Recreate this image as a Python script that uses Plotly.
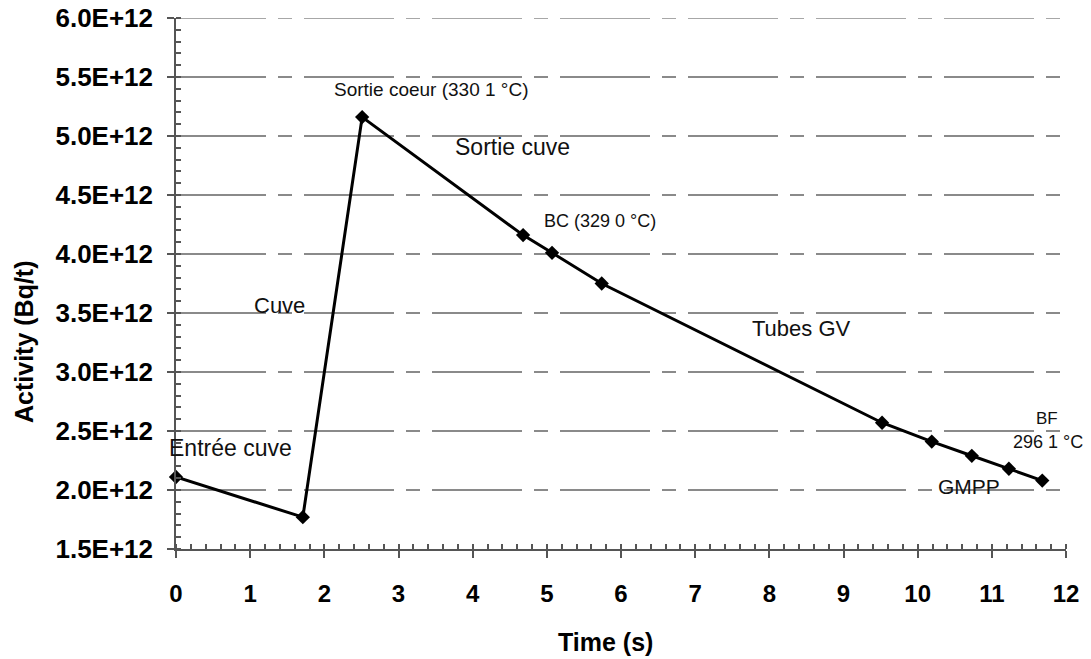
import plotly.graph_objects as go

# Data
time_s = [0.0, 1.71, 2.51, 4.68, 5.07, 5.74, 9.52, 10.19, 10.73, 11.23, 11.68]
activity = [2.11e12, 1.77e12, 5.16e12, 4.16e12, 4.01e12, 3.75e12, 2.57e12, 2.41e12, 2.29e12, 2.18e12, 2.08e12]

y_tickvals = [1.5e12, 2.0e12, 2.5e12, 3.0e12, 3.5e12, 4.0e12, 4.5e12, 5.0e12, 5.5e12, 6.0e12]
y_ticktext = ["1.5E+12", "2.0E+12", "2.5E+12", "3.0E+12", "3.5E+12",
              "4.0E+12", "4.5E+12", "5.0E+12", "5.5E+12", "6.0E+12"]
x_tickvals = list(range(0, 13))

labels = ["Sortie coeur (330 1 °C)", "Sortie cuve", "BC (329 0 °C)", "Cuve",
          "Tubes GV", "Entrée cuve", "BF", "296 1 °C", "GMPP"]
label_x = [3.45, 4.54, 5.72, 1.39, 8.44, 0.74, 11.74, 11.76, 10.69]
label_y = [5.39e12, 4.91e12, 4.28e12, 3.56e12, 3.37e12, 2.36e12, 2.61e12, 2.41e12, 2.03e12]
label_size = [19, 23, 18, 22, 22, 23, 17, 18, 21]

FONT = "Arial, Liberation Sans, sans-serif"

# page offset (browser body margin) and target plot-area pixels on screen
OFF = 8
W, H = 1091, 659
PX0, PX1, PY0, PY1 = 176, 1066, 18, 549
L, T = PX0 - OFF, PY0 - OFF
R, B = W + OFF - PX1, H + OFF - PY1
PW, PH = PX1 - PX0, PY1 - PY0

GRID_COLOR = "#8a8a8a"
GRID_DASH = "90px,12px,14px,12px"

fig = go.Figure()
fig.add_trace(go.Scatter(
    x=time_s, y=activity, mode="lines+markers",
    line=dict(color="black", width=3),
    marker=dict(symbol="diamond", size=11, color="black"),
    showlegend=False, cliponaxis=False,
))

for t, xx, yy, s in zip(labels, label_x, label_y, label_size):
    fig.add_annotation(x=xx, y=yy, xref="x", yref="y", text=t, showarrow=False,
                       font=dict(family=FONT, size=s, color="#111"))

# axis titles placed as paper annotations (screen pixel targets converted to paper)
fig.add_annotation(x=(605 - PX0) / PW, y=(PY1 - 642) / PH, xref="paper", yref="paper",
                   text="<b>Time (s)</b>", showarrow=False, xanchor="center", yanchor="middle",
                   font=dict(family=FONT, size=25, color="black"))
fig.add_annotation(x=(24 - PX0) / PW, y=(PY1 - 342) / PH, xref="paper", yref="paper",
                   text="<b>Activity (Bq/t)</b>", showarrow=False, textangle=-90,
                   xanchor="center", yanchor="middle",
                   font=dict(family=FONT, size=25, color="black"))

# top gridline (plotly omits the gridline lying on the plot edge)
fig.add_shape(type="line", xref="paper", x0=0, x1=1, yref="y", y0=y_tickvals[-1], y1=y_tickvals[-1],
              line=dict(color=GRID_COLOR, width=1.5, dash=GRID_DASH), layer="below")

fig.update_layout(
    width=W, height=H,
    margin=dict(l=L, r=R, t=T, b=B, autoexpand=False),
    paper_bgcolor="white", plot_bgcolor="white",
    font=dict(family=FONT, color="black"),
)

fig.update_xaxes(
    range=[0, 12], tickvals=x_tickvals, automargin=False,
    showline=True, linecolor="#555", linewidth=1.5,
    ticks="outside", ticklen=7, tickcolor="#555", tickwidth=1.5,
    ticklabelstandoff=15, ticklabeloverflow="allow",
    tickfont=dict(family=FONT, size=24, color="black", weight="bold"),
    showgrid=False, zeroline=False,
    minor=dict(ticks="inside", dtick=0.2, ticklen=5, tickcolor="#555", showgrid=False),
)
fig.update_yaxes(
    range=[1.5e12, 6.0e12], tickvals=y_tickvals, ticktext=y_ticktext, automargin=False,
    showline=True, linecolor="#555", linewidth=1.5,
    ticks="outside", ticklen=7, tickcolor="#555", tickwidth=1.5,
    ticklabelstandoff=9, ticklabeloverflow="allow",
    tickfont=dict(family=FONT, size=26, color="black", weight="bold"),
    showgrid=True, gridcolor=GRID_COLOR, gridwidth=1.5, griddash=GRID_DASH,
    zeroline=False,
    minor=dict(ticks="inside", dtick=0.1e12, tick0=1.5e12, ticklen=5, tickcolor="#555", showgrid=False),
)

fig.write_html("out.html")
